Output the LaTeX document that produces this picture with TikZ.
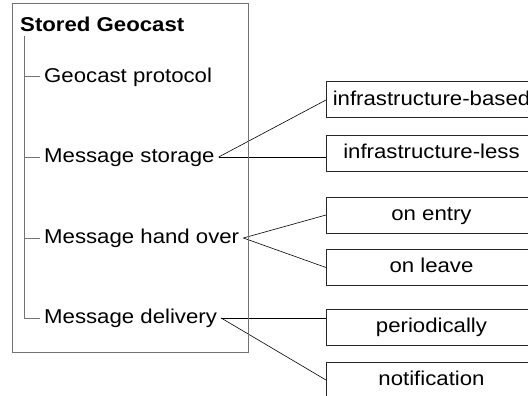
\documentclass[tikz,border=0pt]{standalone}
\usepackage{fontspec}
\setmainfont{Liberation Sans}[FakeStretch=1.11]

\begin{document}
\begin{tikzpicture}[x=1pt,y=-1pt]
				\tikzstyle{every node}=[font=\fontsize{20}{24}\selectfont, text height=14.5pt, text depth=4pt]
				\tikzstyle{item}=[anchor=west, inner xsep=4pt, inner ysep=0pt]
				\tikzstyle{choice}=[draw=black!85, line width=1pt, anchor=west, 
				minimum width=210pt, minimum height=36pt, inner sep=0pt]
				\tikzstyle{branch}=[draw=black!55, line width=1pt]
				\tikzstyle{link}=[draw=black, line width=0.6pt]
				\useasboundingbox (0,0) rectangle (528,396);
				\clip (0,0) rectangle (528,396);
				\node[item, font=\fontsize{20}{24}\selectfont\bfseries] (root) at (16,26) {Stored Geocast};
				\coordinate (trunk) at (24,36);
				\node[item] (proto) at (40,77) {Geocast protocol};
				\node[item] (storage) at (40,157) {Message storage};
				\node[item] (handover) at (40,238) {Message hand over};
				\node[item] (delivery) at (40,318) {Message delivery};
				\draw[branch] (trunk) |- (delivery.west);
				\draw[branch] (trunk |- proto.west) -- (proto.west);
				\draw[branch] (trunk |- storage.west) -- (storage.west);
				\draw[branch] (trunk |- handover.west) -- (handover.west);
				\node[choice] (based) at (326,100) {infrastructure-based};
				\node[choice] (less) at (326,153) {infrastructure-less};
				\node[choice] (entry) at (326,215) {on entry};
				\node[choice] (leave) at (326,267.5) {on leave};
				\node[choice] (periodic) at (326,327.5) {periodically};
				\node[choice] (notify) at (326,380) {notification};
				\draw[link] (storage.east) -- (based.west);
				\draw[link] (storage.east) -- (storage.east -| less.west);
				\draw[link] (handover.east) -- (entry.west);
				\draw[link] (handover.east) -- (leave.west);
				\draw[link] (delivery.east) -- (delivery.east -| periodic.west);
				\draw[link] (delivery.east) -- (notify.west);
				\draw[branch] (12,4) rectangle (248,352);
\end{tikzpicture}
\end{document}
